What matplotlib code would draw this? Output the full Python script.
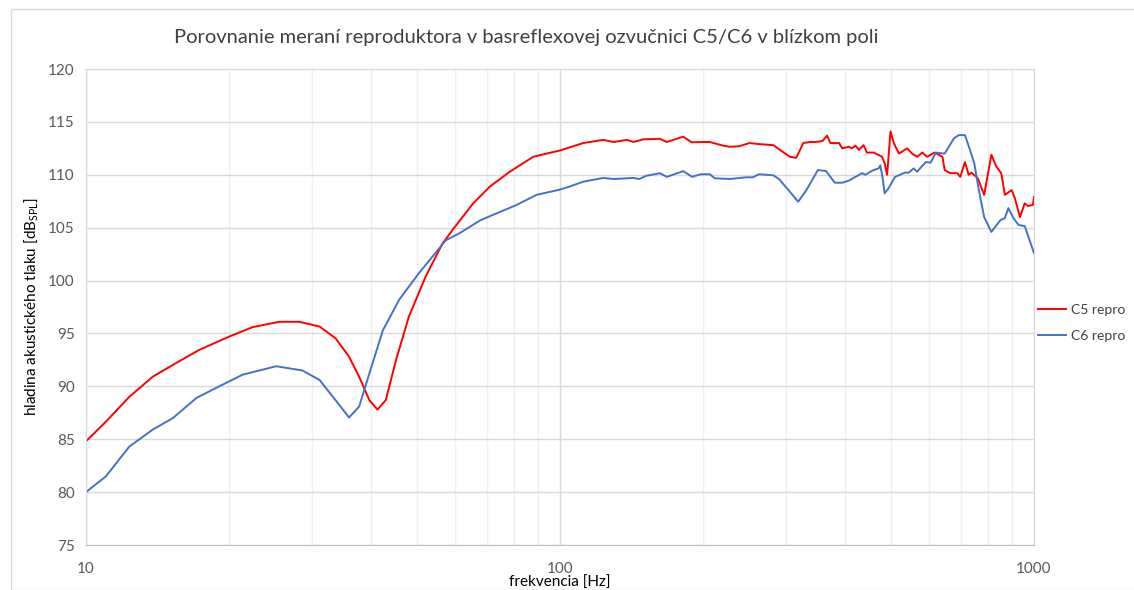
import matplotlib
matplotlib.use("Agg")
import matplotlib.pyplot as plt
from matplotlib.patches import Rectangle
from matplotlib.ticker import FixedLocator, NullFormatter

plt.rcParams['font.family'] = ['Lato', 'DejaVu Sans']
plt.rcParams['mathtext.fontset'] = 'custom'
plt.rcParams['mathtext.rm'] = 'Lato'
plt.rcParams['mathtext.it'] = 'Lato'

title = "Porovnanie meraní reproduktora v basreflexovej ozvučnici C5/C6 v blízkom poli"
xlabel = "frekvencia [Hz]"
ylabel = r"hladina akustického tlaku [dB$_{\mathrm{SPL}}$]"
series_names = ["C5 repro", "C6 repro"]

c5_f = [10, 11.02, 12.34, 13.82, 15.49, 17.34, 20.05, 22.47, 25.57, 28.2, 31.1, 33.6, 35.9,
        37.7, 39.6, 41.2, 42.9, 45.1, 48.0, 52.1, 56.5, 59.6, 65.6, 71.2, 78.4, 87.8, 100,
        105, 112, 123.4, 129.7, 138.6,
        142.8, 150, 162.5, 167.9, 182, 189.6, 200.6, 207, 221, 228, 239, 251, 263, 282,
        290, 305.5, 315, 326, 337, 347, 358, 366, 372, 388, 394, 407, 413, 420, 427, 437,
        444, 459, 478, 484, 490, 498, 506, 519, 540, 553, 567, 581, 595, 617, 641, 648,
        666, 689, 699, 715, 728, 738, 761, 785, 813, 832, 853, 868, 897, 911, 934, 956,
        971, 995, 1000]
c5_db = [84.8, 86.67, 89.0, 90.9, 92.2, 93.45, 94.7, 95.6, 96.1, 96.1, 95.65, 94.55, 92.8,
         90.9, 88.7, 87.8, 88.7, 92.5, 96.6, 100.4, 103.5, 104.9, 107.3, 108.9, 110.3, 111.7, 112.3,
         112.6, 113.0, 113.3, 113.1, 113.3,
         113.1, 113.35, 113.4, 113.1, 113.6, 113.07, 113.1, 113.1, 112.75, 112.65, 112.7, 113.0, 112.9, 112.8,
         112.4, 111.7, 111.6, 113.0, 113.1, 113.1, 113.2, 113.7, 113.0, 113.0, 112.5, 112.65, 112.5, 112.75, 112.35, 112.8,
         112.1, 112.1, 111.7, 111.1, 110.0, 114.1, 113.0, 112.0, 112.5, 112.0, 111.7, 112.1, 111.7, 112.1, 111.7, 110.45,
         110.15, 110.15, 109.8, 111.2, 110.0, 110.2, 109.67, 108.1, 111.9, 110.8, 110.15, 108.1, 108.55, 107.8, 106.0, 107.3,
         107.05, 107.15, 107.9]

c6_f = [10, 11.02, 12.34, 13.82, 15.25, 17.1, 19.1, 21.4, 25.2, 28.6, 31.1, 33.6, 35.9,
        37.7, 39.6, 42.3, 45.8, 50.4, 57.4, 61.5, 67.9, 74.8, 81.0, 89.2, 100, 105, 112,
        123.4, 129.7, 142.8,
        147, 152, 162.5, 168, 182, 190, 198, 207, 212, 228, 247, 255, 263, 282, 290, 305.5,
        318, 331, 350, 364, 372, 380, 394, 407, 420, 434, 441, 456, 470, 474, 479, 484, 493,
        509, 534, 544, 557, 567, 591, 605, 621, 648, 678, 694, 715, 731, 748, 765, 785, 813,
        849, 868, 883, 905, 928, 956, 1000]
c6_db = [80.0, 81.5, 84.3, 85.9, 87.0, 88.9, 90.0, 91.1, 91.9, 91.5, 90.6, 88.7, 87.05,
         88.1, 91.2, 95.3, 98.2, 100.7, 103.8, 104.5, 105.7, 106.5, 107.15, 108.1, 108.6, 108.9, 109.35,
         109.7, 109.6, 109.7,
         109.6, 109.9, 110.15, 109.8, 110.35, 109.8, 110.05, 110.05, 109.67, 109.6, 109.76, 109.76, 110.05, 109.95, 109.57, 108.4,
         107.45, 108.55, 110.45, 110.35, 109.8, 109.25, 109.25, 109.45, 109.8, 110.15, 110.0, 110.4, 110.6, 110.9, 109.8, 108.25, 108.7,
         109.8, 110.2, 110.2, 110.6, 110.3, 111.2, 111.15, 112.1, 112.0, 113.45, 113.75, 113.75, 112.5, 111.1, 108.55, 106.0, 104.6,
         105.7, 105.9, 106.85, 105.9, 105.25, 105.15, 102.6]

y_ticks = [75, 80, 85, 90, 95, 100, 105, 110, 115, 120]
x_ticks = [10, 100, 1000]
x_minor = [20, 30, 40, 50, 60, 70, 80, 90, 200, 300, 400, 500, 600, 700, 800, 900]

fig = plt.figure(figsize=(11.34, 5.90), dpi=100)
fig.patches.append(Rectangle((11 / 1134, 0), 1.2, 1 - 9 / 590, transform=fig.transFigure,
                             fill=False, edgecolor='#d9d9d9', linewidth=1.0))
ax = fig.add_axes([86 / 1134, 1 - 545 / 590, (1034 - 86) / 1134, (545 - 69) / 590])

ax.set_xscale('log')
ax.set_xlim(10, 1000)
ax.set_ylim(75, 120)
ax.set_yticks(y_ticks)
ax.xaxis.set_major_locator(FixedLocator(x_ticks))
ax.xaxis.set_minor_locator(FixedLocator(x_minor))
ax.xaxis.set_minor_formatter(NullFormatter())
ax.set_xticklabels([str(v) for v in x_ticks])

ax.grid(True, which='major', axis='y', color='#d9d9d9', linewidth=1.0)
ax.grid(True, which='major', axis='x', color='#d9d9d9', linewidth=1.0)
ax.grid(True, which='minor', axis='x', color='#efefef', linewidth=1.0)
ax.set_axisbelow(True)

for s in ['top', 'right', 'left']:
    ax.spines[s].set_color('#d9d9d9')
ax.spines['bottom'].set_color('#bfbfbf')
ax.tick_params(which='both', length=0, colors='#595959', labelsize=11)
ax.tick_params(axis='x', pad=12)
ax.tick_params(axis='y', pad=8)

l1, = ax.plot(c5_f, c5_db, color='#ff0000', linewidth=1.4, label=series_names[0])
l2, = ax.plot(c6_f, c6_db, color='#4472c4', linewidth=1.4, label=series_names[1])

ax.set_xlabel(xlabel, fontsize=11, color='#000000', labelpad=0)
ax.set_ylabel(ylabel, fontsize=11, color='#000000', labelpad=6)
fig.text(526 / 1134, 1 - 37 / 590, title, ha='center', va='center', fontsize=14.5, color='#404040')

leg = ax.legend(handles=[l1, l2], loc='center left', bbox_to_anchor=(1.004, 0.466),
                frameon=False, fontsize=10, handlelength=2.0, handletextpad=0.4,
                labelspacing=1.0, borderaxespad=0.0, borderpad=0.0)
for t in leg.get_texts():
    t.set_color('#404040')

fig.savefig('out.png', dpi=100)
